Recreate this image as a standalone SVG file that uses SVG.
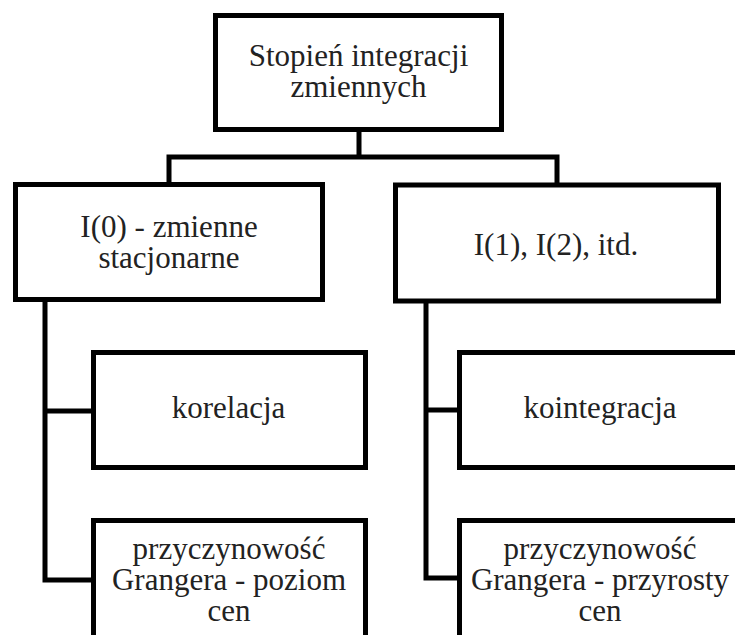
<svg xmlns="http://www.w3.org/2000/svg" width="735" height="635" viewBox="0 0 735 635">
<style>
.box{fill:#fff;stroke:#000;stroke-width:5;}
.con{fill:none;stroke:#000;stroke-width:5;stroke-linejoin:miter;stroke-linecap:butt;}
.t{font-family:'Liberation Serif','Times New Roman','DejaVu Serif',serif;font-size:31px;fill:#222;text-anchor:middle;}
</style>
<rect width="735" height="635" fill="#fff"/>
<g id="connectors">
<path class="con" d="M359 130 V157 M169 184 V157 H557 V185"/>
<path class="con" d="M45 300 V580 M42.5 411 H93 M42.5 580 H93"/>
<path class="con" d="M426 301 V578 M423.5 410 H459 M423.5 578 H459"/>
</g>
<g id="root">
<rect class="box" x="215.5" y="15.5" width="286" height="114"/>
<text class="t" font-family="Liberation Serif, serif" x="358.5" y="65.5">Stopień integracji</text>
<text class="t" font-family="Liberation Serif, serif" x="358.5" y="96.5">zmiennych</text>
</g>
<g id="i0">
<rect class="box" x="15.5" y="184.5" width="307" height="115"/>
<text class="t" font-family="Liberation Serif, serif" x="169" y="237">I(0) - zmienne</text>
<text class="t" font-family="Liberation Serif, serif" x="169" y="268">stacjonarne</text>
</g>
<g id="i1">
<rect class="box" x="395.5" y="185" width="323" height="116"/>
<text class="t" font-family="Liberation Serif, serif" x="556" y="255">I(1), I(2), itd.</text>
</g>
<g id="korelacja">
<rect class="box" x="93.5" y="352.5" width="272" height="115"/>
<text class="t" font-family="Liberation Serif, serif" x="228.5" y="418">korelacja</text>
</g>
<g id="granger-poziom">
<rect class="box" x="93.5" y="520.5" width="272" height="130"/>
<text class="t" font-family="Liberation Serif, serif" x="229" y="559">przyczynowość</text>
<text class="t" font-family="Liberation Serif, serif" x="229" y="590">Grangera - poziom</text>
<text class="t" font-family="Liberation Serif, serif" x="229" y="621">cen</text>
</g>
<g id="kointegracja">
<rect class="box" x="459.5" y="352.5" width="300" height="115"/>
<text class="t" font-family="Liberation Serif, serif" x="600" y="418">kointegracja</text>
</g>
<g id="granger-przyrosty">
<rect class="box" x="459.5" y="520.5" width="300" height="130"/>
<text class="t" font-family="Liberation Serif, serif" x="600" y="559">przyczynowość</text>
<text class="t" font-family="Liberation Serif, serif" x="600" y="590">Grangera - przyrosty</text>
<text class="t" font-family="Liberation Serif, serif" x="600" y="621">cen</text>
</g>
</svg>
